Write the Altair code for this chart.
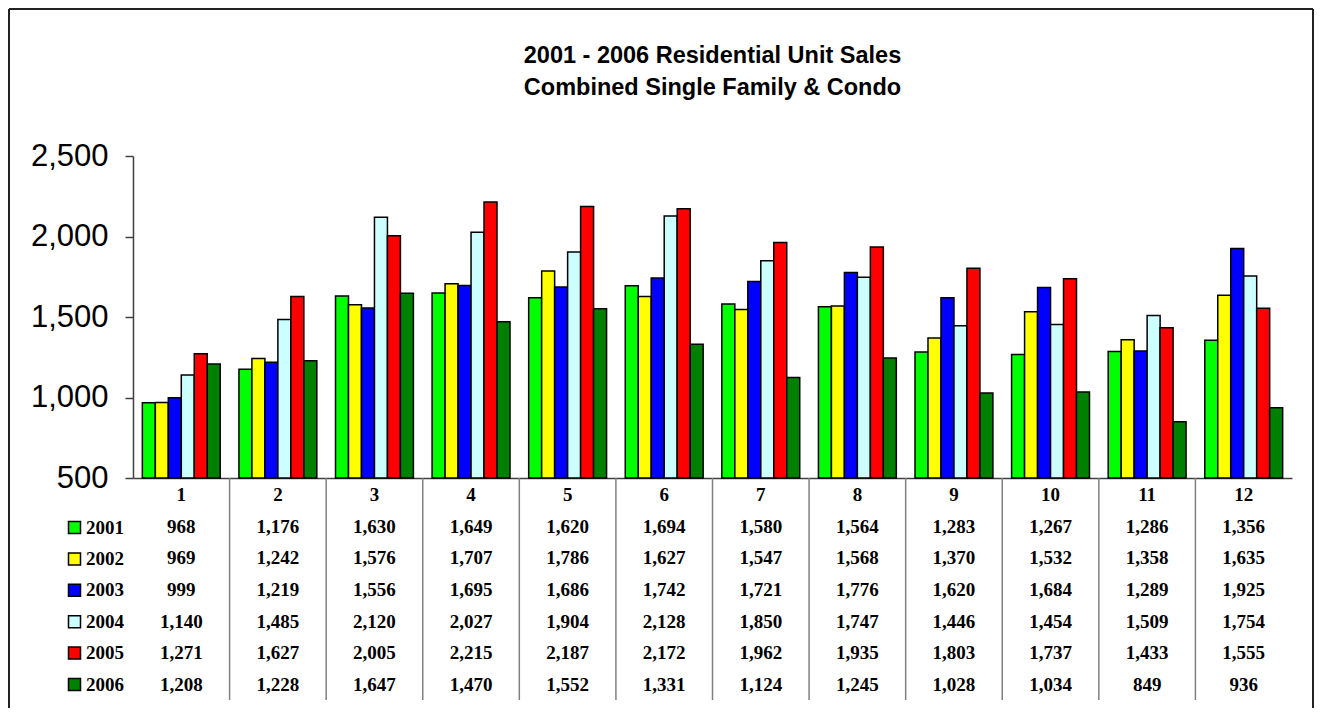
import altair as alt
import pandas as pd

months = list(range(1, 13))
years = ["2001", "2002", "2003", "2004", "2005", "2006"]
colors = ["#00FF00", "#FFFF00", "#0000FF", "#CCFFFF", "#FF0000", "#008000"]

s2001 = [968, 1176, 1630, 1649, 1620, 1694, 1580, 1564, 1283, 1267, 1286, 1356]
s2002 = [969, 1242, 1576, 1707, 1786, 1627, 1547, 1568, 1370, 1532, 1358, 1635]
s2003 = [999, 1219, 1556, 1695, 1686, 1742, 1721, 1776, 1620, 1684, 1289, 1925]
s2004 = [1140, 1485, 2120, 2027, 1904, 2128, 1850, 1747, 1446, 1454, 1509, 1754]
s2005 = [1271, 1627, 2005, 2215, 2187, 2172, 1962, 1935, 1803, 1737, 1433, 1555]
s2006 = [1208, 1228, 1647, 1470, 1552, 1331, 1124, 1245, 1028, 1034, 849, 936]
series = [s2001, s2002, s2003, s2004, s2005, s2006]

y_ticks = [500, 1000, 1500, 2000, 2500]
title_lines = ["2001 - 2006 Residential Unit Sales", "Combined Single Family & Condo"]

rows = []
for yr, vals in zip(years, series):
    for m, v in zip(months, vals):
        rows.append({"month": m, "year": yr, "sales": v, "label": f"{v:,}"})
df = pd.DataFrame(rows)

hdr = pd.DataFrame({"month": months, "year": ["M"] * 12, "label": [str(m) for m in months]})
table_df = pd.concat([hdr, df[["month", "year", "label"]]], ignore_index=True)

W = 1159
H = 322
TH = 222

xscale = alt.Scale(domain=months, paddingInner=0, paddingOuter=0)

bars = alt.Chart(df).mark_bar(stroke="black", strokeWidth=1.5).encode(
    x=alt.X("month:O", scale=xscale,
            axis=alt.Axis(title=None, labels=False, ticks=False, domainColor="#404040",
                          domainWidth=1.5)),
    xOffset=alt.XOffset("year:N", scale=alt.Scale(domain=years, paddingInner=0, paddingOuter=0.72)),
    y=alt.Y("sales:Q", scale=alt.Scale(domain=[500, 2500], zero=False, nice=False),
            axis=alt.Axis(title=None, values=y_ticks, format=",.0f", grid=False,
                          labelFont="Liberation Sans", labelFontSize=31, labelColor="black",
                          labelPadding=17, tickSize=8, tickColor="#404040", tickWidth=1.5,
                          domainColor="#404040", domainWidth=1.5)),
    y2=alt.datum(500),
    color=alt.Color("year:N", scale=alt.Scale(domain=years, range=colors),
                    legend=alt.Legend(title=None, orient="none", legendX=-68, legendY=362,
                                      symbolType="square", symbolSize=144,
                                      symbolStrokeColor="black", symbolStrokeWidth=1.5,
                                      labelFont="Liberation Serif", labelFontWeight="bold",
                                      labelFontSize=19, labelColor="black", labelOffset=2,
                                      rowPadding=11.4, padding=0)),
)

one = pd.DataFrame({"a": [0]})
frame_style = dict(color="#222222", strokeWidth=2)
frame_left = alt.Chart(one).mark_rule(**frame_style).encode(
    x=alt.value(-124), y=alt.value(-147), y2=alt.value(552))
frame_right = alt.Chart(one).mark_rule(**frame_style).encode(
    x=alt.value(1180), y=alt.value(-147), y2=alt.value(552))
frame_top = alt.Chart(one).mark_rule(**frame_style).encode(
    x=alt.value(-124), x2=alt.value(1180), y=alt.value(-147))

title_style = dict(font="Liberation Sans", fontSize=23.5, fontWeight="bold", color="black",
                   align="center", baseline="alphabetic")
title1 = alt.Chart(pd.DataFrame({"t": [title_lines[0]]})).mark_text(**title_style).encode(
    x=alt.value(W / 2), y=alt.value(-93), text="t:N")
title2 = alt.Chart(pd.DataFrame({"t": [title_lines[1]]})).mark_text(**title_style).encode(
    x=alt.value(W / 2), y=alt.value(-61), text="t:N")

top = alt.layer(bars, frame_left, frame_right, frame_top, title1, title2).properties(
    width=W, height=H)

texts = alt.Chart(table_df).mark_text(
    font="Liberation Serif", fontWeight="bold", fontSize=19, color="black", dy=1
).encode(
    x=alt.X("month:O", scale=xscale, axis=None),
    y=alt.Y("year:N", scale=alt.Scale(domain=["M"] + years, paddingInner=0, paddingOuter=0),
            axis=None),
    text="label:N",
)

seps = alt.Chart(pd.DataFrame({"month": months[1:]})).mark_rule(
    color="#808080", strokeWidth=1.5
).encode(
    x=alt.X("month:O", scale=xscale, bandPosition=0, axis=None),
    y=alt.value(0), y2=alt.value(TH),
)

bottom = alt.layer(seps, texts).properties(width=W, height=TH)

chart = alt.vconcat(top, bottom, spacing=0, bounds="flush").resolve_scale(
    x="independent", y="independent"
).configure_view(stroke=None).properties(padding=0)

chart.save("out.html", embed_options={"renderer": "svg", "actions": False})
